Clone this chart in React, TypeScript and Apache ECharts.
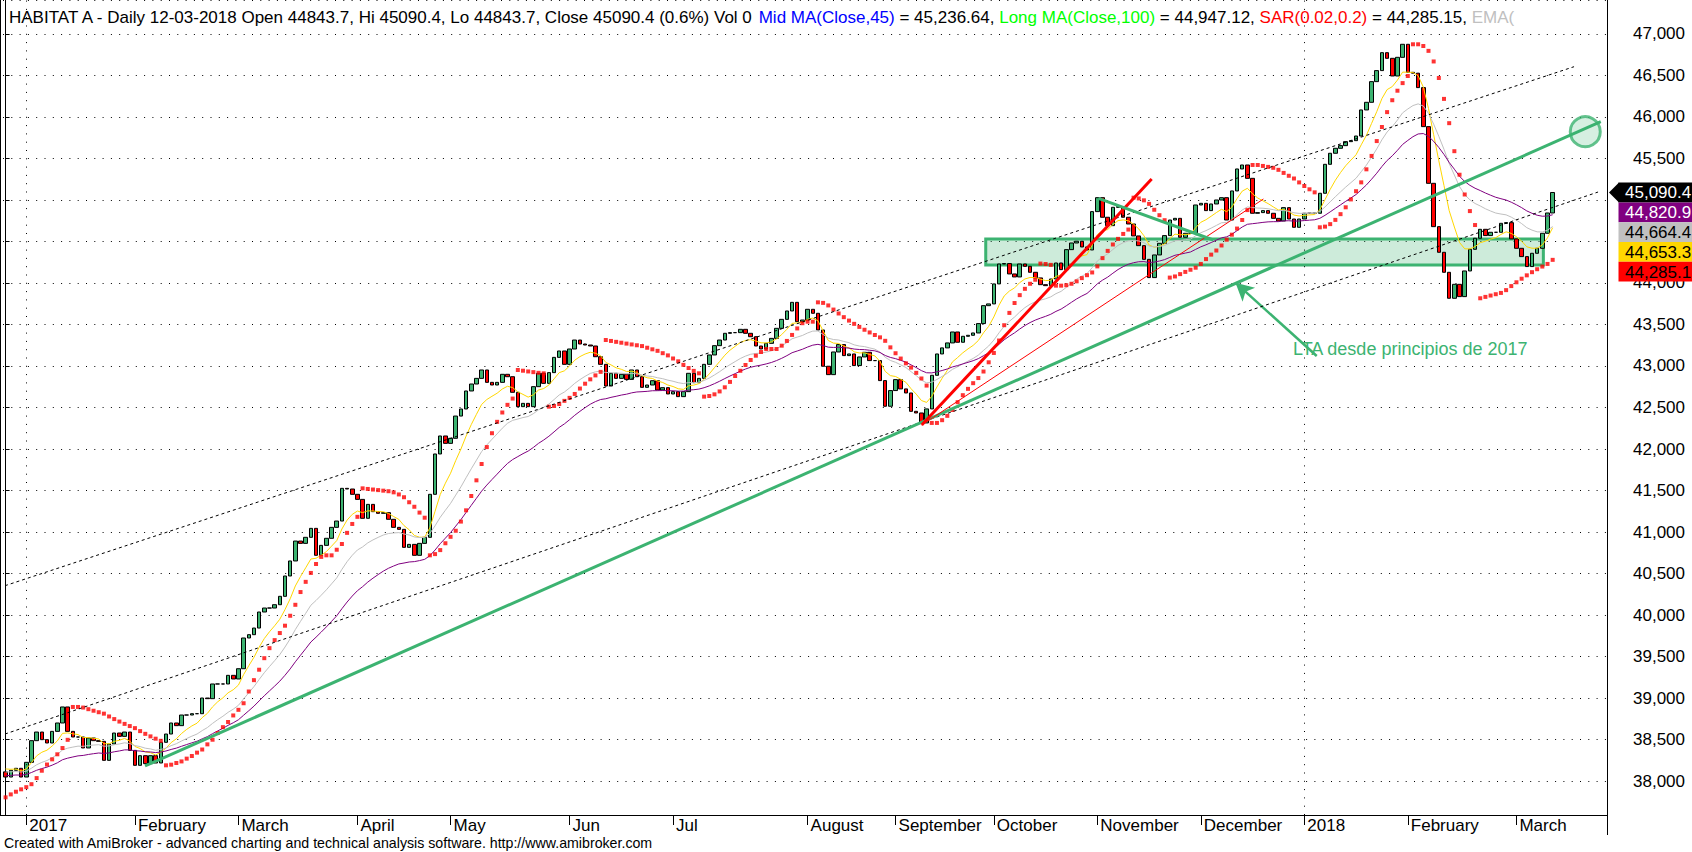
import React, { useEffect, useRef } from 'react';
import * as echarts from 'echarts';

// ---- data (daily closes, Dec-2016 .. 12-Mar-2018) ----
const firstOpen = 38110;
const closes: number[] = [
  38048, 38129, 38153, 38048, 38225, 38486, 38590, 38498, 38458, 38598,
  38699, 38892, 38598, 38530, 38530, 38398, 38518, 38486, 38478, 38249,
  38446, 38578, 38538, 38590, 38369, 38189, 38305, 38209, 38305, 38217,
  38466, 38566, 38699, 38667, 38795, 38795, 38811, 38811, 39000, 38992,
  39169, 39169, 39169, 39273, 39229, 39353, 39723, 39763, 39843, 40036,
  40084, 40084, 40124, 40225, 40470, 40651, 40891, 40863, 40936, 41044,
  40719, 40839, 40924, 41056, 41132, 41526, 41518, 41454, 41393, 41165,
  41333, 41245, 41225, 41233, 41153, 41056, 41032, 40815, 40851, 40719,
  40863, 40936, 41454, 41940, 42157, 42068, 42129, 42397, 42482, 42699,
  42783, 42851, 42952, 42803, 42771, 42803, 42900, 42871, 42683, 42510,
  42550, 42510, 42751, 42912, 42791, 42920, 43104, 43181, 43020, 43205,
  43313, 43265, 43253, 43241, 43112, 43020, 42759, 42912, 42851, 42900,
  42839, 42952, 42871, 42743, 42771, 42823, 42711, 42739, 42663, 42691,
  42631, 42691, 42912, 42799, 42851, 43020, 43133, 43245, 43313, 43394,
  43402, 43402, 43442, 43394, 43353, 43241, 43205, 43273, 43333, 43454,
  43562, 43663, 43767, 43534, 43554, 43683, 43635, 43434, 42997, 42896,
  43169, 43258, 43125, 43145, 43005, 43109, 43165, 43065, 43065, 42824,
  42515, 42704, 42836, 42724, 42675, 42454, 42434, 42314, 42483, 42888,
  43145, 43218, 43278, 43410, 43286, 43358, 43370, 43398, 43511, 43727,
  43748, 43989, 44229, 44234, 44109, 44073, 44229, 44201, 44129, 44061,
  43980, 43968, 44048, 44241, 44161, 44402, 44482, 44503, 44434, 44398,
  44860, 45028, 44792, 44691, 44912, 44920, 44792, 44711, 44567, 44450,
  44285, 44065, 44338, 44478, 44571, 44759, 44779, 44551, 44599, 44599,
  44940, 44960, 44872, 44952, 45000, 45028, 44759, 45109, 45374, 45422,
  45261, 44840, 44848, 44872, 44840, 44779, 44747, 44908, 44771, 44671,
  44771, 44840, 44840, 44840, 45081, 45430, 45563, 45623, 45655, 45703,
  45715, 45771, 46085, 46177, 46426, 46559, 46775, 46707, 46494, 46719,
  46876, 46538, 46528, 46354, 45884, 45201, 44679, 44370, 44129, 43816,
  43984, 43836, 44145, 44406, 44539, 44647, 44571, 44611, 44611, 44719,
  44727, 44531, 44418, 44318, 44198, 44358, 44418, 44599, 44843.7, 45090.4,
];
const totalSlots = 310; // bars + blank space on the right
const monthStartIdx = [4, 25, 45, 68, 86, 109, 129, 155, 172, 191, 211, 231, 251, 271, 292];
const monthNames = ['2017', 'February', 'March', 'April', 'May', 'Jun', 'Jul', 'August', 'September', 'October', 'November', 'December', '2018', 'February', 'March'];
const yearStartIdx = [4, 251];
const hiddenPriceLabels = [44500, 45000]; // covered by the value tags
const tagValues = [45090.4, 44820.9, 44664.4, 44653.3, 44285.1];
const tagLabels = ['45,090.4', '44,820.9', '44,664.4', '44,653.3', '44,285.1'];

// indicator settings
const emaYellowPeriod = 8;
const emaGrayPeriod = 20;
const emaPurplePeriod = 35;
const emaSeeds = [38145, 38108, 38064];
const sarStart = { sar: 37803, ep: 38160, af: 0.1 };
const sarStep = 0.02;
const sarMax = 0.2;

// hand-drawn studies, as [bar index, price]
const upperChannel = [[-0.11, 40353], [303.13, 46606]];
const lowerChannel = [[-0.11, 38566], [307.77, 45096]];
const ltaLine = [[26.95, 38181], [308.3, 45943]];
const redSteep = [[177.06, 42289], [221.5, 45253]];
const redThin = [[177.06, 42289], [243.1, 45012]];
const greenDown = [[211.2, 45020], [233.4, 44518]];
const arrowLine = [[253.4, 43121], [237.7, 44004]];
const zone = [[189.43, 44530], [297.2, 44217]];
const circlePoint = [305.3, 45823];

const FONT = "'Liberation Sans', Arial, sans-serif";
const GREEN = '#3cb371';

function ema(values: number[], period: number, seed: number): number[] {
  const a = 2 / (period + 1);
  const out: number[] = [];
  let e = seed;
  values.forEach((v, i) => {
    if (i > 0) e = e + a * (v - e);
    out.push(Math.round(e * 100) / 100);
  });
  return out;
}

function parabolicSar(highs: number[], lows: number[]): number[] {
  let s = sarStart.sar, ep = sarStart.ep, af = sarStart.af, long = true;
  const out = [s];
  for (let i = 1; i < highs.length; i++) {
    s = s + af * (ep - s);
    if (long) {
      s = Math.min(s, lows[i - 1], lows[Math.max(0, i - 2)]);
      if (lows[i] < s) { long = false; s = ep; ep = lows[i]; af = sarStep; }
      else if (highs[i] > ep) { ep = highs[i]; af = Math.min(af + sarStep, sarMax); }
    } else {
      s = Math.max(s, highs[i - 1], highs[Math.max(0, i - 2)]);
      if (highs[i] > s) { long = true; s = ep; ep = highs[i]; af = sarStep; }
      else if (lows[i] < ep) { ep = lows[i]; af = Math.min(af + sarStep, sarMax); }
    }
    out.push(Math.round(s * 100) / 100);
  }
  return out;
}

export default function App() {
  const ref = useRef<HTMLDivElement>(null);
  useEffect(() => {
    document.body.style.margin = '0';
    const chart = echarts.init(ref.current!, undefined, { renderer: 'svg' });

    const opens = closes.map((c, i) => (i === 0 ? firstOpen : closes[i - 1]));
    const highs = closes.map((c, i) => Math.max(c, opens[i]));
    const lows = closes.map((c, i) => Math.min(c, opens[i]));
    const candles = closes.map((c, i) => [opens[i], c, lows[i], highs[i]]);
    const yellow = ema(closes, emaYellowPeriod, emaSeeds[0]);
    const gray = ema(closes, emaGrayPeriod, emaSeeds[1]);
    const purple = ema(closes, emaPurplePeriod, emaSeeds[2]);
    const sar = parabolicSar(highs, lows);

    const categories = Array.from({ length: totalSlots }, (_, i) => String(i));
    const labelMap: Record<number, string> = {};
    monthStartIdx.forEach((idx, k) => (labelMap[idx] = monthNames[k]));
    const isMonth = (index: number) => labelMap[index] !== undefined;

    const dotted = [1, 7.3];
    const lineSeries = (name: string, pts: number[][], color: string, width: number, type: any = 'solid') => ({
      name, type: 'line', xAxisIndex: 1, yAxisIndex: 0, data: pts, showSymbol: false, symbol: 'none',
      lineStyle: { color, width, type }, z: 5, silent: true,
    });
    const rs = (color: string) => ({ color, fontFamily: FONT, fontSize: 17, fontWeight: 'normal' });

    const option: any = {
      animation: false,
      backgroundColor: '#ffffff',
      title: {
        left: 4, top: 4,
        text: '{k|HABITAT A - Daily 12-03-2018 Open 44843.7, Hi 45090.4, Lo 44843.7, Close 45090.4 (0.6%) Vol 0 }{b|Mid MA(Close,45)}{k| = 45,236.64, }{g|Long MA(Close,100)}{k| = 44,947.12, }{r|SAR(0.02,0.2)}{k| = 44,285.15, }{e|EMA(}',
        textStyle: {
          fontFamily: FONT, fontSize: 17, fontWeight: 'normal',
          rich: { k: rs('#000000'), b: rs('#0000ff'), g: rs('#00ff00'), r: rs('#ff0000'), e: rs('#c0c0c0') },
        },
      },
      grid: { left: 3, right: 85, top: 0, bottom: 37, containLabel: false },
      xAxis: [
        {
          type: 'category', data: categories, boundaryGap: true, position: 'bottom',
          axisLine: { show: true, lineStyle: { color: '#000', width: 1 } },
          axisTick: { show: true, alignWithLabel: true, length: 10, interval: (i: number) => isMonth(i), lineStyle: { color: '#000' } },
          axisLabel: {
            show: true, interval: (i: number) => isMonth(i), formatter: (_v: string, i: number) => labelMap[i] ?? '',
            align: 'left', verticalAlign: 'top', margin: 2, padding: [0, 0, 0, 3],
            color: '#000', fontFamily: FONT, fontSize: 17, lineHeight: 17,
          },
          splitLine: { show: false },
        },
        { type: 'value', min: -0.5, max: totalSlots - 0.5, show: false },
      ],
      yAxis: [{
        type: 'value', position: 'right', min: 37590.4, max: 47409.6, splitNumber: 20, scale: true,
        axisLine: { show: true, lineStyle: { color: '#000', width: 1 } },
        axisTick: { show: true, length: 4, lineStyle: { color: '#000' } },
        axisLabel: {
          margin: 26, color: '#000', fontFamily: FONT, fontSize: 17, showMinLabel: false, showMaxLabel: false,
          formatter: (v: number) =>
            Math.abs(v % 500) < 1e-6 && !hiddenPriceLabels.includes(v) ? v.toLocaleString('en-US') : '',
        },
        splitLine: { show: true, lineStyle: { color: '#000', width: 1, type: dotted } },
      }],
      series: [
        {
          name: 'years', type: 'line', xAxisIndex: 1, yAxisIndex: 0, data: [], silent: true,
          markLine: {
            silent: true, symbol: ['none', 'none'], label: { show: false },
            lineStyle: { color: '#000', width: 1, type: dotted },
            data: yearStartIdx.map((x) => ({ xAxis: x })),
          },
        },
        {
          name: 'Price', type: 'candlestick', xAxisIndex: 0, yAxisIndex: 0, data: candles, barWidth: 4,
          itemStyle: { color: GREEN, color0: '#ff0000', borderColor: '#000', borderColor0: '#000', borderColorDoji: '#000', borderWidth: 1 },
          z: 2, silent: true,
        },
        {
          name: 'zone', type: 'line', xAxisIndex: 1, yAxisIndex: 0, data: [], silent: true, z: 3,
          markArea: {
            silent: true,
            itemStyle: { color: 'rgba(60,179,113,0.26)', borderColor: GREEN, borderWidth: 3 },
            data: [[{ xAxis: zone[0][0], yAxis: zone[0][1] }, { xAxis: zone[1][0], yAxis: zone[1][1] }]],
          },
        },
        { name: 'EMA fast', type: 'line', xAxisIndex: 0, data: yellow, showSymbol: false, symbol: 'none', lineStyle: { color: '#ffd700', width: 1 }, z: 4, silent: true },
        { name: 'EMA mid', type: 'line', xAxisIndex: 0, data: gray, showSymbol: false, symbol: 'none', lineStyle: { color: '#c0c0c0', width: 1 }, z: 4, silent: true },
        { name: 'EMA slow', type: 'line', xAxisIndex: 0, data: purple, showSymbol: false, symbol: 'none', lineStyle: { color: '#800080', width: 1 }, z: 4, silent: true },
        {
          name: 'SAR', type: 'scatter', xAxisIndex: 0, data: sar.map((v, i) => [i, v]), symbol: 'rect', symbolSize: 4,
          itemStyle: { color: '#ff0000' }, z: 4, silent: true,
        },
        lineSeries('upper channel', upperChannel, '#000', 1, [3, 3]),
        lineSeries('lower channel', lowerChannel, '#000', 1, [3, 3]),
        lineSeries('LTA', ltaLine, GREEN, 3),
        lineSeries('red steep', redSteep, '#ff0000', 3),
        lineSeries('red thin', redThin, '#ff0000', 1),
        lineSeries('green down', greenDown, GREEN, 3),
        {
          name: 'circle', type: 'scatter', xAxisIndex: 1, yAxisIndex: 0, data: [circlePoint], symbol: 'circle', symbolSize: 30,
          itemStyle: { color: 'rgba(60,179,113,0.26)', borderColor: GREEN, borderWidth: 3 }, z: 6, silent: true,
        },
        {
          name: 'arrow', type: 'line', xAxisIndex: 1, yAxisIndex: 0, data: [], silent: true, z: 6,
          markLine: {
            silent: true, symbol: ['none', 'arrow'], symbolSize: [14, 18], label: { show: false },
            lineStyle: { color: GREEN, width: 2.5, type: 'solid' },
            data: [[{ coord: arrowLine[0] }, { coord: arrowLine[1] }]],
          },
        },
      ],
    };
    chart.setOption(option);

    const y0 = chart.convertToPixel({ yAxisIndex: 0 }, tagValues[0]) as number;
    const tagH = 19.8;
    const tagColors = ['#000000', '#800080', '#c0c0c0', '#ffd700', '#ff0000'];
    const tagText = ['#ffffff', '#ffffff', '#000000', '#000000', '#000000'];
    const graphics: any[] = [
      { type: 'line', z: 21, shape: { x1: 1607.5, y1: 0, x2: 1607.5, y2: 835 }, style: { stroke: '#000', lineWidth: 1 } },
      { type: 'line', z: 21, shape: { x1: 0.5, y1: 0, x2: 0.5, y2: 815 }, style: { stroke: '#000', lineWidth: 1 } },
      { type: 'line', z: 21, shape: { x1: 0, y1: 815.5, x2: 4, y2: 815.5 }, style: { stroke: '#000', lineWidth: 1 } },
      {
        type: 'text', z: 21, x: 1293, y: 349,
        style: { text: 'LTA desde principios de 2017', fill: GREEN, fontFamily: FONT, fontSize: 18, verticalAlign: 'middle' },
      },
      {
        type: 'text', z: 21, x: 4, y: 843,
        style: { text: 'Created with AmiBroker - advanced charting and technical analysis software. http://www.amibroker.com', fill: '#000', fontFamily: FONT, fontSize: 14.2, verticalAlign: 'middle' },
      },
    ];
    tagLabels.forEach((t, k) => {
      const top = y0 - tagH / 2 + k * tagH;
      graphics.push({ type: 'rect', z: 22, shape: { x: 1618.5, y: top, width: 80, height: tagH }, style: { fill: tagColors[k] } });
      if (k === 0) {
        graphics.push({ type: 'polygon', z: 22, shape: { points: [[1609, y0], [1619, top], [1619, top + tagH]] }, style: { fill: tagColors[k] } });
      }
      graphics.push({
        type: 'text', z: 23, x: 1625, y: top + tagH / 2 + 0.5,
        style: { text: t, fill: tagText[k], fontFamily: FONT, fontSize: 17, lineHeight: 18, verticalAlign: 'middle' },
      });
    });
    chart.setOption({ graphic: graphics });

    return () => chart.dispose();
  }, []);
  return <div ref={ref} style={{ width: 1692, height: 852 }} />;
}
